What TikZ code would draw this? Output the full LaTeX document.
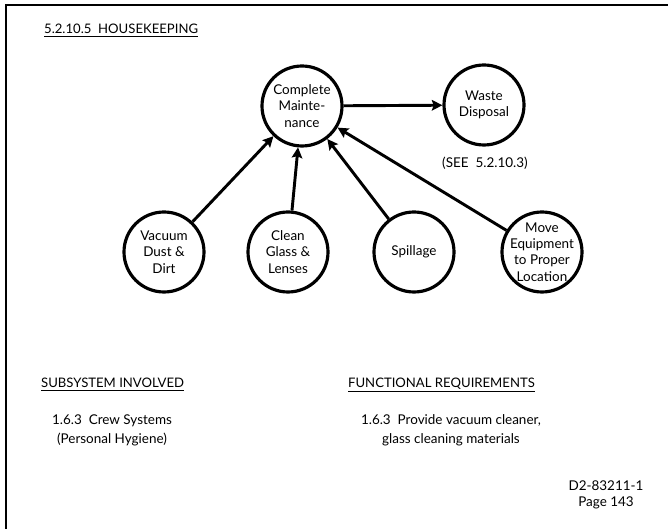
\documentclass[tikz,border=0pt]{standalone}
\usepackage{fontspec}
\setmainfont{Lato}
\usetikzlibrary{arrows.meta}

\tikzset{
  task/.style={draw, circle, line width=2.7pt, minimum size=2.4cm, inner sep=1pt,
    align=center, font=\fontsize{11.5}{14}\selectfont},
  note/.style={align=center, font=\fontsize{11.5}{16}\selectfont},
  head/.style={anchor=base west, font=\fontsize{11.2}{14}\selectfont}
}

\begin{document}
\begin{tikzpicture}[x=0.03cm, y=0.03cm, >={Stealth[length=9pt, width=9pt, inset=1.5pt]}]
  \useasboundingbox (0,0) rectangle (668,529);
  \draw[line width=1.7pt] (6,0) -- (6,524) -- (668,524);

  \node[head] (title) at (40,495) {\underline{5.2.10.5\ \ HOUSEKEEPING}};

  \node[task] (maint) at (302,423) {Complete\\Mainte-\\nance};
  \node[task] (waste) at (484,424) {Waste\\Disposal};
  \node[note] (see) at (485,366) {(SEE\ \ 5.2.10.3)};

  \node[task] (vac) at (164,277) {Vacuum\\Dust \&\\Dirt};
  \node[task] (glass) at (288,277) {Clean\\Glass \&\\Lenses};
  \node[task] (spill) at (414,277) {Spillage};
  \node[task, inner sep=-11pt] (move) at (542,277) {Move\\Equipment\\to Proper\\Location};

  \draw[->, line width=2.5pt] (maint) -- (waste);
  \foreach \n in {vac,glass,spill,move} {
    \draw[->, line width=2.5pt] (\n) -- (maint);
  }

  \node[head] (sub) at (37,141) {\underline{SUBSYSTEM INVOLVED}};
  \node[head] (func) at (344,141) {\underline{FUNCTIONAL REQUIREMENTS}};

  \node[note] (crew) at (112,99) {1.6.3\ \ Crew Systems\\(Personal Hygiene)};
  \node[note] (req) at (451,99) {1.6.3\ \ Provide vacuum cleaner,\\glass cleaning materials};

  \node[align=center, font=\fontsize{11.5}{14}\selectfont] (doc) at (606,34) {D2-83211-1\\Page 143};
\end{tikzpicture}
\end{document}
